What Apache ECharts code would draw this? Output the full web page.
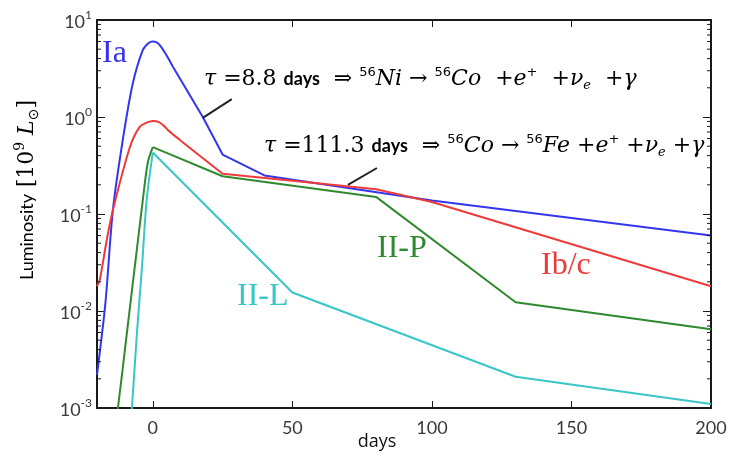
<!DOCTYPE html>
<html>
<head>
<meta charset="utf-8">
<script src="https://cdn.jsdelivr.net/npm/echarts@6/dist/echarts.min.js"></script>
<style>html,body{margin:0;padding:0;background:#fff;}#c{width:732px;height:454px;}</style>
</head>
<body>
<div id="c"></div>
<script>
// ---- data ----
const iaDays = [-20, -17, -14.3, -10.8, -7.2, -3.6, -1.5, 0, 2.5, 7.2, 17.9, 25, 40, 100, 200];
const iaLum  = [0.0022, 0.012, 0.11, 0.57, 2.2, 4.9, 5.8, 6.0, 5.5, 3.3, 1.0, 0.41, 0.25, 0.138, 0.060];
const iaSplit = 9;   // index where the smooth rise ends and the straight tail starts

const ibcDays = [-20, -19, -16.5, -14.3, -8.2, -4.7, -2, 0, 2, 4, 5.5, 7, 10, 25, 50, 80, 100, 200];
const ibcLum  = [0.018, 0.021, 0.054, 0.11, 0.49, 0.79, 0.88, 0.91, 0.89, 0.81, 0.73, 0.67, 0.57, 0.26, 0.22, 0.18, 0.133, 0.018];
const ibcSplit = 12;

const iipDays = [-14, -12.5, -9.3, -6.5, -3.6, -1.8, 0, 25, 80, 130, 200];
const iipLum  = [0.0005, 0.001, 0.0059, 0.028, 0.138, 0.34, 0.49, 0.245, 0.15, 0.0123, 0.0065];
const iipSplit = 6;

const iilDays = [-8.5, -7.5, -5.7, -3.9, -2.2, 0, 50, 130, 200];
const iilLum  = [0.0005, 0.001, 0.0059, 0.028, 0.14, 0.43, 0.0155, 0.0021, 0.0011];
const iilSplit = 5;

const xTicks = [0, 50, 100, 150, 200];
const yMin = 0.001, yMax = 10;
const minorMultipliers = [2, 3, 4, 5, 6, 7, 8, 9];
const decades = [0.001, 0.01, 0.1, 1];

const seriesNames = ['Ia', 'Ib/c', 'II-P', 'II-L'];
const colors = ['#3535f0', '#ef3a3a', '#2f8a2f', '#38c6c6'];

// ---- helpers ----
function pairs(xs, ys) { return xs.map((x, i) => [x, ys[i]]); }
const minorVals = [];
decades.forEach(d => minorMultipliers.forEach(m => minorVals.push([m * d])));

const chart = echarts.init(document.getElementById('c'), null, {renderer: 'canvas'});

const axisLineStyle = {color: '#1a1a1a', width: 2};
const labelFont = {fontFamily: 'Lato', fontSize: 18, color: '#3a3a3a'};

function lineSeries(name, data, color, smooth) {
  return {
    name: name, type: 'line', data: data, showSymbol: false, symbol: 'none',
    smooth: smooth,
    lineStyle: {color: color, width: 2}, itemStyle: {color: color},
    clip: true, animation: false, z: 3
  };
}
function curve(name, xs, ys, split, color) {
  const d = pairs(xs, ys);
  return [
    lineSeries(name, d.slice(0, split + 1), color, 0.3),
    lineSeries(name, d.slice(split), color, false)
  ];
}

const option = {
  animation: false,
  backgroundColor: '#fff',
  grid: {left: 97, right: 21, top: 20, bottom: 46, containLabel: false},
  xAxis: [{
    type: 'value', min: -20, max: 200,
    axisLine: {show: true, lineStyle: axisLineStyle, onZero: false},
    axisTick: {show: true, inside: true, length: 7, customValues: xTicks, lineStyle: {color: '#1a1a1a', width: 1}},
    axisLabel: {show: true, customValues: xTicks, margin: 11, ...labelFont},
    splitLine: {show: false}
  }, {
    type: 'value', min: -20, max: 200, position: 'top',
    axisLine: {show: true, lineStyle: axisLineStyle, onZero: false},
    axisTick: {show: true, inside: true, length: 7, customValues: xTicks, lineStyle: {color: '#1a1a1a', width: 1}},
    axisLabel: {show: false}, splitLine: {show: false}
  }],
  yAxis: [{
    type: 'log', logBase: 10, min: yMin, max: yMax,
    axisLine: {show: true, lineStyle: axisLineStyle, onZero: false},
    axisTick: {show: true, inside: true, length: 8, lineStyle: {color: '#1a1a1a', width: 1}},
    axisLabel: {
      show: true, margin: 5,
      formatter: function (v) {
        const e = Math.round(Math.log10(v));
        return '{b|10}{s|' + e + '}';
      },
      rich: {
        b: {fontFamily: 'Lato', fontSize: 18, color: '#3a3a3a', lineHeight: 22, verticalAlign: 'bottom'},
        s: {fontFamily: 'Lato', fontSize: 12, color: '#3a3a3a', lineHeight: 12, verticalAlign: 'top'}
      }
    },
    splitLine: {show: false}
  }, {
    type: 'log', logBase: 10, min: yMin, max: yMax, position: 'right',
    axisLine: {show: true, lineStyle: axisLineStyle, onZero: false},
    axisTick: {show: true, inside: true, length: 8, lineStyle: {color: '#1a1a1a', width: 1}},
    axisLabel: {show: false}, splitLine: {show: false}
  }],
  series: [
    ...curve(seriesNames[0], iaDays, iaLum, iaSplit, colors[0]),
    ...curve(seriesNames[1], ibcDays, ibcLum, ibcSplit, colors[1]),
    ...curve(seriesNames[2], iipDays, iipLum, iipSplit, colors[2]),
    ...curve(seriesNames[3], iilDays, iilLum, iilSplit, colors[3]),
    {
      type: 'custom', data: minorVals, silent: true, clip: false, z: 5,
      renderItem: function (params, api) {
        const v = api.value(0);
        const l = api.coord([-20, v]);
        const r = api.coord([200, v]);
        const st = {stroke: '#1a1a1a', lineWidth: 1};
        return {
          type: 'group', children: [
            {type: 'line', shape: {x1: l[0], y1: l[1], x2: l[0] + 4, y2: l[1]}, style: st},
            {type: 'line', shape: {x1: r[0] - 4, y1: r[1], x2: r[0], y2: r[1]}, style: st}
          ]
        };
      },
      encode: {y: 0}
    }
  ]
};
chart.setOption(option);

// ---- annotations ----
const mathRich = {
  m:  {fontFamily: 'DejaVu Serif', fontSize: 22, color: '#3a3a3a', lineHeight: 26},
  mi: {fontFamily: 'DejaVu Serif', fontStyle: 'italic', fontSize: 22, color: '#3a3a3a', lineHeight: 26},
  d:  {fontFamily: 'Lato', fontWeight: 'bold', fontSize: 18, color: '#111', lineHeight: 26},
  sup:{fontFamily: 'DejaVu Sans', fontSize: 13, color: '#3a3a3a', lineHeight: 10, verticalAlign: 'top'},
  sub:{fontFamily: 'DejaVu Serif', fontStyle: 'italic', fontSize: 13, color: '#3a3a3a', lineHeight: 8, verticalAlign: 'bottom'}
};
const txt1 = '{mi|τ}{m| =8.8 }{d|days}{m|  ⇒ }{sup|56}{mi|Ni}{m| → }{sup|56}{mi|Co}{m|  +}{mi|e}{sup|+}{m|  +}{mi|ν}{sub|e}{m|  +}{mi|γ}';
const txt2 = '{mi|τ}{m| =111.3 }{d|days}{m|  ⇒ }{sup|56}{mi|Co}{m| → }{sup|56}{mi|Fe}{m| +}{mi|e}{sup|+}{m| +}{mi|ν}{sub|e}{m| +}{mi|γ}';

const lead1a = chart.convertToPixel({xAxisIndex: 0, yAxisIndex: 0}, [17.9, 0.98]);
const lead1b = chart.convertToPixel({xAxisIndex: 0, yAxisIndex: 0}, [28.3, 1.53]);
const lead2a = chart.convertToPixel({xAxisIndex: 0, yAxisIndex: 0}, [69.9, 0.20]);
const lead2b = chart.convertToPixel({xAxisIndex: 0, yAxisIndex: 0}, [80.3, 0.298]);

const labelStyle = (c) => ({fontFamily: 'Liberation Serif', fontSize: 32, fill: c});

chart.setOption({
  graphic: [
    {type: 'line', shape: {x1: lead1a[0], y1: lead1a[1], x2: lead1b[0], y2: lead1b[1]}, style: {stroke: '#222', lineWidth: 2}, z: 10},
    {type: 'line', shape: {x1: lead2a[0], y1: lead2a[1], x2: lead2b[0], y2: lead2b[1]}, style: {stroke: '#222', lineWidth: 2}, z: 10},
    {type: 'text', left: 204, top: 66, z: 10, style: {text: txt1, rich: mathRich}},
    {type: 'text', left: 264, top: 133, z: 10, style: {text: txt2, rich: mathRich}},
    {type: 'text', left: 102, top: 38, z: 10, style: {text: 'Ia', ...labelStyle(colors[0])}},
    {type: 'text', left: 541, top: 250, z: 10, style: {text: 'Ib/c', ...labelStyle(colors[1])}},
    {type: 'text', left: 377, top: 233, z: 10, style: {text: 'II-P', ...labelStyle(colors[2])}},
    {type: 'text', left: 237, top: 281, z: 10, style: {text: 'II-L', ...labelStyle(colors[3])}},
    {type: 'text', x: 377, y: 442, z: 10, style: {text: 'days', fontFamily: 'Open Sans', fontSize: 18, fill: '#111', align: 'center', verticalAlign: 'middle'}},
    {
      type: 'text', x: 27, y: 190, rotation: Math.PI / 2, z: 10,
      style: {
        text: '{a|Luminosity}  {b|[10}{s|9}{b| }{i|L}{sub|⊙}{b|]}',
        align: 'center', verticalAlign: 'middle',
        rich: {
          a: {fontFamily: 'Lato', fontSize: 18, color: '#111', lineHeight: 28},
          b: {fontFamily: 'DejaVu Serif', fontSize: 22, color: '#3a3a3a', lineHeight: 28},
          i: {fontFamily: 'DejaVu Serif', fontStyle: 'italic', fontSize: 22, color: '#3a3a3a', lineHeight: 28},
          s: {fontFamily: 'DejaVu Serif', fontSize: 14, color: '#3a3a3a', lineHeight: 12, verticalAlign: 'top'},
          sub: {fontFamily: 'DejaVu Sans', fontSize: 14, color: '#3a3a3a', lineHeight: 10, verticalAlign: 'bottom'}
        }
      }
    }
  ]
});
</script>
</body>
</html>
